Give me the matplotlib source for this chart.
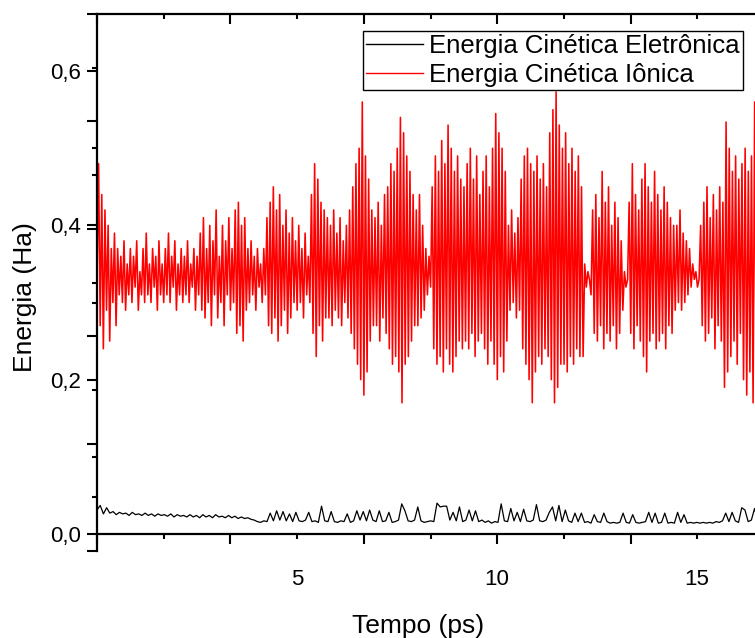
import numpy as np
import matplotlib
matplotlib.use("Agg")
import matplotlib.pyplot as plt
from matplotlib.ticker import FixedLocator, NullFormatter

plt.rcParams['font.family'] = ['Liberation Sans', 'DejaVu Sans']

# ---------------- data ----------------
t_end = 16.68  # ps, last sample

ion_energy = [
    # 0.0-0.6 ps
    0.33, 0.48, 0.27, 0.44, 0.24, 0.42, 0.29, 0.40, 0.25, 0.37, 0.30, 0.39, 0.27, 0.37, 0.31,
    # 0.6-2.6 ps
    0.36, 0.30, 0.38, 0.29, 0.35, 0.31, 0.37, 0.30, 0.36, 0.32,
    0.38, 0.29, 0.34, 0.31, 0.37, 0.30, 0.39, 0.31, 0.35, 0.30,
    0.37, 0.32, 0.36, 0.29, 0.38, 0.31, 0.35, 0.30, 0.37, 0.31,
    0.39, 0.30, 0.36, 0.32, 0.38, 0.29, 0.35, 0.31, 0.37, 0.30,
    0.36, 0.31, 0.38, 0.30, 0.35, 0.32, 0.37, 0.29, 0.36, 0.31,
    # 2.6-3.5 ps
    0.39, 0.29, 0.41, 0.28, 0.37, 0.30, 0.40, 0.27, 0.38, 0.31, 0.42,
    0.28, 0.36, 0.30, 0.40, 0.27, 0.38, 0.31, 0.41, 0.29, 0.37, 0.30,
    # 3.5-3.8 ps
    0.42, 0.26, 0.43, 0.27, 0.40, 0.25, 0.41, 0.29,
    # 3.8-4.3 ps
    0.37, 0.30, 0.38, 0.31, 0.36, 0.29, 0.37, 0.32, 0.35, 0.30, 0.37, 0.31,
    # 4.3-5.0 ps
    0.41, 0.27, 0.43, 0.26, 0.45, 0.28, 0.42, 0.25, 0.44, 0.27, 0.40, 0.29,
    0.42, 0.26, 0.39, 0.28, 0.41, 0.30,
    # 5.0-5.4 ps
    0.38, 0.29, 0.40, 0.30, 0.37, 0.28, 0.39, 0.31, 0.36, 0.30,
    # 5.4-5.8 ps
    0.44, 0.26, 0.48, 0.23, 0.46, 0.27, 0.43, 0.25, 0.42, 0.28,
    # 5.8-6.4 ps
    0.41, 0.28, 0.40, 0.27, 0.42, 0.29, 0.39, 0.28, 0.41, 0.27, 0.38, 0.30, 0.40, 0.28, 0.42,
    # 6.4-7.0 ps
    0.26, 0.45, 0.24, 0.48, 0.22, 0.50, 0.20, 0.56, 0.18, 0.49, 0.21, 0.46, 0.25, 0.42, 0.27,
    # 7.0-7.3 ps
    0.41, 0.27, 0.43, 0.25, 0.40, 0.28, 0.44, 0.26,
    # 7.3-8.0 ps
    0.45, 0.24, 0.48, 0.22, 0.47, 0.23, 0.50, 0.21, 0.54, 0.17, 0.52, 0.22,
    0.49, 0.23, 0.47, 0.25, 0.44, 0.27,
    # 8.0-8.4 ps
    0.42, 0.27, 0.44, 0.28, 0.40, 0.29, 0.37, 0.31, 0.36, 0.32,
    # 8.4-9.2 ps
    0.45, 0.24, 0.49, 0.22, 0.47, 0.23, 0.51, 0.21, 0.48, 0.24,
    0.53, 0.22, 0.50, 0.21, 0.47, 0.23, 0.49, 0.25, 0.46, 0.24,
    # 9.2-9.9 ps
    0.45, 0.25, 0.48, 0.24, 0.50, 0.26, 0.46, 0.23, 0.49, 0.25,
    0.44, 0.26, 0.47, 0.24, 0.49, 0.22, 0.45, 0.25,
    # 9.9-10.3 ps
    0.50, 0.22, 0.545, 0.20, 0.52, 0.23, 0.50, 0.21, 0.47, 0.25,
    # 10.3-10.6 ps
    0.40, 0.29, 0.42, 0.30, 0.39, 0.28, 0.41, 0.29,
    # 10.6-11.3 ps
    0.46, 0.24, 0.49, 0.22, 0.50, 0.20, 0.48, 0.17, 0.47, 0.21,
    0.49, 0.23, 0.46, 0.22, 0.48, 0.24, 0.45, 0.23,
    # 11.3-11.6 ps
    0.52, 0.20, 0.55, 0.17, 0.573, 0.19, 0.53, 0.22,
    # 11.6-12.1 ps
    0.50, 0.22, 0.52, 0.21, 0.48, 0.23, 0.50, 0.22, 0.47, 0.24, 0.49, 0.23,
    # 12.1-12.35 ps
    0.45, 0.23, 0.35, 0.32, 0.34, 0.33, 0.31,
    # 12.35-13.15 ps
    0.42, 0.26, 0.44, 0.25, 0.41, 0.27, 0.47, 0.24, 0.43, 0.26,
    0.45, 0.25, 0.40, 0.27, 0.43, 0.24, 0.41, 0.26, 0.38, 0.29,
    # 13.15-13.25 ps
    0.34, 0.32, 0.33,
    # 13.25-14.4 ps
    0.43, 0.26, 0.48, 0.24, 0.44, 0.27, 0.42, 0.25, 0.46, 0.23,
    0.48, 0.21, 0.45, 0.25, 0.43, 0.26, 0.47, 0.24, 0.44, 0.25,
    0.42, 0.26, 0.45, 0.24, 0.43, 0.27, 0.41, 0.26, 0.40,
    # 14.4-14.83 ps
    0.29, 0.40, 0.30, 0.42, 0.29, 0.39, 0.30, 0.38, 0.31, 0.37, 0.32,
    # 14.83-15.03 ps
    0.35, 0.33, 0.34, 0.32, 0.33,
    # 15.03-15.65 ps
    0.40, 0.27, 0.43, 0.25, 0.45, 0.26, 0.41, 0.28, 0.44, 0.24, 0.42, 0.27, 0.45, 0.25, 0.43,
    # 15.65-15.78 ps
    0.19, 0.534, 0.21,
    # 15.78-16.08 ps
    0.50, 0.23, 0.47, 0.25, 0.49, 0.22, 0.46, 0.26,
    # 16.08-16.68 ps
    0.48, 0.20, 0.50, 0.18, 0.47, 0.21, 0.49, 0.17, 0.56, 0.18, 0.50, 0.20, 0.47, 0.22, 0.45,
]

electron_energy = [
    # 0.0-0.4 ps
    0.031, 0.037, 0.026, 0.034, 0.027,
    # 0.4-4.0 ps
    0.029, 0.025, 0.028, 0.026, 0.027, 0.024, 0.028, 0.025, 0.026, 0.024,
    0.027, 0.024, 0.026, 0.023, 0.026, 0.024, 0.025, 0.023, 0.026, 0.022,
    0.025, 0.023, 0.024, 0.022, 0.025, 0.022, 0.024, 0.021, 0.025, 0.022,
    0.024, 0.021, 0.025, 0.022, 0.023, 0.021, 0.024, 0.021, 0.023, 0.020,
    0.022, 0.020, 0.021, 0.019, 0.018,
    # 4.0-8.4 ps
    0.016, 0.015, 0.017, 0.016, 0.027, 0.017, 0.030, 0.018, 0.029, 0.017,
    0.026, 0.016, 0.028, 0.017, 0.016, 0.018, 0.028, 0.016, 0.017, 0.015,
    0.036, 0.017, 0.016, 0.029, 0.016, 0.015, 0.017, 0.016, 0.026, 0.015,
    0.017, 0.030, 0.018, 0.029, 0.017, 0.031, 0.018, 0.016, 0.030, 0.016,
    0.017, 0.028, 0.015, 0.016, 0.018, 0.039, 0.030, 0.017, 0.016, 0.018,
    0.035, 0.017, 0.015, 0.016, 0.017,
    # 8.4-16.68 ps
    0.016, 0.040, 0.035, 0.036, 0.036, 0.018, 0.028, 0.017, 0.035, 0.016,
    0.018, 0.031, 0.017, 0.030, 0.016, 0.018, 0.015, 0.017, 0.014, 0.016,
    0.015, 0.039, 0.017, 0.016, 0.033, 0.017, 0.028, 0.016, 0.032, 0.017,
    0.016, 0.018, 0.038, 0.017, 0.016, 0.018, 0.028, 0.035, 0.017, 0.037,
    0.016, 0.031, 0.017, 0.015, 0.027, 0.016, 0.027, 0.015, 0.016, 0.014,
    0.025, 0.016, 0.015, 0.027, 0.016, 0.014, 0.015, 0.014, 0.015, 0.027,
    0.015, 0.014, 0.025, 0.015, 0.014, 0.015, 0.016, 0.028, 0.015, 0.027,
    0.014, 0.015, 0.027, 0.014, 0.015, 0.014, 0.028, 0.015, 0.025, 0.014,
    0.015, 0.014, 0.015, 0.014, 0.015, 0.014, 0.015, 0.014, 0.016, 0.015,
    0.017, 0.027, 0.016, 0.028, 0.017, 0.015, 0.034, 0.031, 0.016, 0.018,
    0.033, 0.017, 0.016, 0.018,
]

series_labels = ["Energia Cinética Eletrônica", "Energia Cinética Iônica"]
x_tick_values = [5, 10, 15]
x_tick_labels = ["5", "10", "15"]
y_major_values = [0.0, 0.2, 0.4, 0.6]
y_major_labels = ["0,0", "0,2", "0,4", "0,6"]
y_minor_values = [0.1, 0.3, 0.5]
x_label = "Tempo (ps)"
y_label = "Energia (Ha)"

t_ion = np.linspace(0, t_end, len(ion_energy))
t_ele = np.linspace(0, t_end, len(electron_energy))

# ---------------- figure ----------------
W, H = 755, 638
fig = plt.figure(figsize=(W / 100, H / 100), dpi=100)
left_px, right_px, top_px, bot_px = 97, 764, 14, 551
pos = [left_px / W, 1 - bot_px / H, (right_px - left_px) / W, (bot_px - top_px) / H]

ax = fig.add_axes(pos)
ax.plot(t_ele, electron_energy, color="black", lw=0.9, label=series_labels[0])
ax.plot(t_ion, ion_energy, color="#ff0000", lw=1.15, label=series_labels[1])
ax.set_xlim(0, 16.675)
ax.set_ylim(-0.0221, 0.674)

for s in ax.spines.values():
    s.set_linewidth(1.6)
ax.spines["bottom"].set_position(("data", 0))

ax.xaxis.set_major_locator(FixedLocator(x_tick_values))
ax.set_xticklabels(x_tick_labels)
ax.tick_params(axis="x", which="both", length=0, pad=25, labelsize=16, top=False)
ax.yaxis.set_major_locator(FixedLocator(y_major_values))
ax.set_yticklabels(y_major_labels)
ax.yaxis.set_minor_locator(FixedLocator(y_minor_values))
ax.tick_params(axis="y", which="major", direction="out", length=7.2, width=1.5,
               labelsize=16, pad=4, right=False)
ax.tick_params(axis="y", which="minor", direction="out", length=3.6, width=1.5, right=False)

ax.set_xlabel(x_label, fontsize=19)
ax.xaxis.set_label_coords((418 - left_px) / (right_px - left_px), (bot_px - 626) / (bot_px - top_px))
ax.xaxis.label.set_va("center")
ax.set_ylabel(y_label, fontsize=19)
ax.yaxis.set_label_coords((25 - left_px) / (right_px - left_px), (bot_px - 297) / (bot_px - top_px))
ax.yaxis.label.set_va("center")

# overlay layer with uniform tick marks (bottom/left outward)
zero_frac = (bot_px - 534) / (bot_px - top_px)
axb = fig.add_axes(pos, frameon=False)
axb.patch.set_visible(False)
axb.set_xlim(0, 1)
axb.set_ylim(0, 1)
axb.spines["bottom"].set_position(("axes", zero_frac))
axb.xaxis.set_major_locator(FixedLocator([0, 0.2, 0.4, 0.6, 0.8, 1.0]))
axb.xaxis.set_minor_locator(FixedLocator([0.1, 0.3, 0.5, 0.7, 0.9]))
axb.yaxis.set_major_locator(FixedLocator([0, 0.2, 0.4, 0.6, 0.8, 1.0]))
axb.yaxis.set_minor_locator(FixedLocator([0.1, 0.3, 0.5, 0.7, 0.9]))
axb.xaxis.set_major_formatter(NullFormatter())
axb.yaxis.set_major_formatter(NullFormatter())
axb.tick_params(which="major", direction="out", length=7.2, width=1.5,
                top=False, right=False, labelbottom=False, labelleft=False)
axb.tick_params(which="minor", direction="out", length=3.6, width=1.5,
                top=False, right=False)

# overlay layer for top ticks (pointing inward)
axt = fig.add_axes(pos, frameon=False)
axt.patch.set_visible(False)
axt.set_xlim(0, 1)
axt.set_ylim(0, 1)
axt.xaxis.set_major_locator(FixedLocator([0, 0.2, 0.4, 0.6, 0.8, 1.0]))
axt.xaxis.set_minor_locator(FixedLocator([0.1, 0.3, 0.5, 0.7, 0.9]))
axt.set_yticks([])
axt.tick_params(axis="x", which="major", direction="in", length=7.2, width=1.5,
                bottom=False, top=True, labelbottom=False, labeltop=False)
axt.tick_params(axis="x", which="minor", direction="in", length=3.6, width=1.5,
                bottom=False, top=True)

leg = ax.legend(loc="upper left", bbox_to_anchor=(363 / W, 1 - 31 / H),
                bbox_transform=fig.transFigure, borderaxespad=0, fontsize=18.5,
                frameon=True, fancybox=False, edgecolor="black", framealpha=1,
                borderpad=0.12, labelspacing=0.2, handlelength=2.2, handletextpad=0.25)
leg.get_frame().set_linewidth(1.0)
for line in leg.get_lines():
    line.set_linewidth(1.0)
leg.set_zorder(10)

fig.savefig("out.png", dpi=100)
